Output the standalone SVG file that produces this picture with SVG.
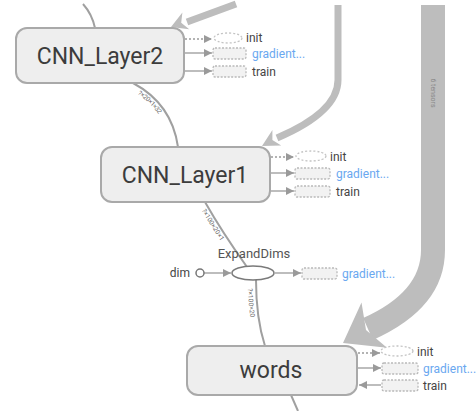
<svg xmlns="http://www.w3.org/2000/svg" width="476" height="411" viewBox="0 0 476 411">
<defs>
<style>
.box{fill:#eeeeee;stroke:#a9a9a9;stroke-width:2}
.bt{font-family:Roboto,"Liberation Sans",sans-serif;font-size:23px;fill:#3c3c3c;text-anchor:middle}
.st{font-family:Roboto,"Liberation Sans",sans-serif;font-size:12px;fill:#444}
.gt{font-family:Roboto,"Liberation Sans",sans-serif;font-size:12px;fill:#6aa8f0}
.edge{fill:none;stroke:#a0a0a0;stroke-width:2}
.aux{fill:none;stroke:#9a9a9a;stroke-width:1.3}
.auxd{fill:none;stroke:#9a9a9a;stroke-width:1.3;stroke-dasharray:2 2}
.ell{fill:#fff;stroke:#c4c4c4;stroke-width:1.3;stroke-dasharray:2 2}
.ser{fill:#f2f2f2;stroke:#b9b9b9;stroke-width:1.3;stroke-dasharray:2 1.5}
.big{fill:none;stroke:#bdbdbd;stroke-width:7}
.head{fill:#bdbdbd}
.el{font-family:Roboto,"Liberation Sans",sans-serif;font-size:6.5px;fill:#666}
</style>
<marker id="ah" markerUnits="userSpaceOnUse" markerWidth="8" markerHeight="8" refX="8" refY="4" orient="auto" viewBox="0 0 8 8">
<path d="M0,0 L8,4 L0,8 z" fill="#9a9a9a"/>
</marker>
<path id="e1" d="M133,83 Q172,104 178,147"/>
<path id="e2" d="M205,202 Q222,232 247,267"/>
<path id="e3" d="M256,280 Q256,318 265,346"/>
</defs>

<g id="connectors">
<path class="edge" d="M83,4 Q92,14 95,28"/>
<use href="#e1" class="edge"/>
<use href="#e2" class="edge"/>
<use href="#e3" class="edge"/>
<path class="edge" d="M291,395 L298,411"/>
<text class="el" dy="7"><textPath href="#e1" startOffset="10">?×20×1×32</textPath></text>
<text class="el" dy="7"><textPath href="#e2" startOffset="6">?×100×20×1</textPath></text>
<text class="el" dy="8"><textPath href="#e3" startOffset="8">?×100×20</textPath></text>

<path class="big" d="M236,4 L187,22"/>
<polygon class="head" points="171,27 182.4,12.6 181.2,22.8 189.2,29.2"/>
<path class="big" d="M338,5 L338,80 Q338,112 277,138"/>
<polygon class="head" points="262,146 272.4,129.9 272.4,140.1 281.2,145.5"/>
<path fill="none" stroke="#bdbdbd" stroke-width="24" d="M433,5 L433,250 Q433,300 368,329"/>
<polygon class="head" points="343,343 361.5,302.6 366,330 387,347.8"/>
<text transform="translate(431,93) rotate(90)" font-family="Roboto,'Liberation Sans',sans-serif" font-size="7" fill="#8a8a8a" text-anchor="middle">6 tensors</text>

<line class="auxd" x1="185" y1="39" x2="212" y2="39" marker-end="url(#ah)"/>
<line class="aux" x1="185" y1="53" x2="212" y2="53" marker-end="url(#ah)"/>
<line class="aux" x1="185" y1="71" x2="212" y2="71" marker-end="url(#ah)"/>
<line class="auxd" x1="271" y1="157" x2="294" y2="157" marker-end="url(#ah)"/>
<line class="aux" x1="271" y1="173" x2="294" y2="173" marker-end="url(#ah)"/>
<line class="aux" x1="271" y1="191" x2="294" y2="191" marker-end="url(#ah)"/>
<line class="auxd" x1="358" y1="353" x2="380" y2="353" marker-end="url(#ah)"/>
<line class="aux" x1="358" y1="368" x2="381" y2="368" marker-end="url(#ah)"/>
<line class="aux" x1="381" y1="385" x2="359" y2="385" marker-end="url(#ah)"/>
<line class="aux" x1="204" y1="273" x2="231" y2="273" marker-end="url(#ah)"/>
<line class="aux" x1="275" y1="273" x2="301" y2="273" marker-end="url(#ah)"/>
</g>

<g id="CNN_Layer2">
<rect class="box" x="16" y="28" width="168" height="55" rx="11"/>
<text class="bt" x="100" y="64">CNN_Layer2</text>
</g>
<g id="CNN_Layer2_init"><ellipse class="ell" cx="228" cy="38" rx="14" ry="5"/><text class="st" x="246" y="42">init</text></g>
<g id="CNN_Layer2_gradient"><rect class="ser" x="213" y="48" width="33" height="11" rx="2"/><text class="gt" x="252" y="58">gradient...</text></g>
<g id="CNN_Layer2_train"><rect class="ser" x="213" y="66" width="33" height="11" rx="2"/><text class="st" x="252" y="76">train</text></g>

<g id="CNN_Layer1">
<rect class="box" x="101" y="147" width="169" height="55" rx="11"/>
<text class="bt" x="185" y="183">CNN_Layer1</text>
</g>
<g id="CNN_Layer1_init"><ellipse class="ell" cx="311" cy="156" rx="15" ry="5"/><text class="st" x="330" y="161">init</text></g>
<g id="CNN_Layer1_gradient"><rect class="ser" x="295" y="168" width="35" height="11" rx="2"/><text class="gt" x="336" y="178">gradient...</text></g>
<g id="CNN_Layer1_train"><rect class="ser" x="295" y="186" width="35" height="11" rx="2"/><text class="st" x="336" y="196">train</text></g>

<g id="ExpandDims">
<ellipse cx="253" cy="273" rx="21" ry="7" fill="#fff" stroke="#7a7a7a" stroke-width="1.5"/>
<text x="254" y="258" font-family="Roboto,'Liberation Sans',sans-serif" font-size="13" fill="#555" text-anchor="middle">ExpandDims</text>
</g>
<g id="dim">
<circle cx="200" cy="273" r="4" fill="#fff" stroke="#777" stroke-width="1.5"/>
<text class="st" x="190" y="277" text-anchor="end" font-size="11">dim</text>
</g>
<g id="ExpandDims_gradient"><rect class="ser" x="302" y="268" width="35" height="11" rx="2"/><text class="gt" x="342" y="278">gradient...</text></g>

<g id="words">
<rect class="box" x="187" y="346" width="170" height="49" rx="11"/>
<text class="bt" x="271" y="378">words</text>
</g>
<g id="words_init"><ellipse class="ell" cx="397" cy="351" rx="16" ry="5"/><text class="st" x="417" y="356">init</text></g>
<g id="words_gradient"><rect class="ser" x="382" y="363" width="36" height="11" rx="2"/><text class="gt" x="423" y="373">gradient...</text></g>
<g id="words_train"><rect class="ser" x="382" y="380" width="36" height="11" rx="2"/><text class="st" x="423" y="390">train</text></g>
</svg>
